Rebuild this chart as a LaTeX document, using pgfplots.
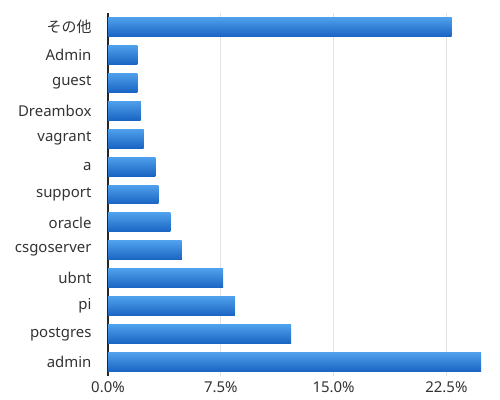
\documentclass[border=0pt]{standalone}
\usepackage{pgfplots}
\pgfplotsset{compat=1.18}
\usepackage{fontspec}
\setmainfont{Noto Sans}
\newfontfamily\cjk{Noto Sans CJK JP}
\definecolor{txt}{HTML}{333333}
\definecolor{gridc}{HTML}{E3E3E3}
\definecolor{bartop}{HTML}{4FA0EC}
\definecolor{barbot}{HTML}{1964C2}
\begin{document}
\begin{tikzpicture}[x=1bp,y=1bp]
\path (0,0) rectangle (500,399);
\begin{axis}[
  at={(108bp,23bp)}, anchor=south west,
  scale only axis, width=376bp, height=363bp,
  xmin=0, xmax=25, ymin=-0.5, ymax=12.5,
  xtick={0,7.5,15,22.5},
  xticklabels={0.0\%,7.5\%,15.0\%,22.5\%},
  ytick={0,...,12},
  yticklabels={admin,postgres,pi,ubnt,csgoserver,oracle,support,a,vagrant,Dreambox,guest,Admin,{\cjk その他}},
  axis lines=left,
  axis line style={-},
  x axis line style={draw=none},
  y axis line style={draw=black!85, line width=1.2pt},
  major tick length=0pt,
  xmajorgrids, grid style={gridc, line width=0.8pt},
  tick label style={font=\fontsize{15}{17}\selectfont, text=txt},
  yticklabel style={xshift=-13bp},
  xticklabel style={yshift=-2bp},
  xbar, bar width=0.68, bar shift=0pt,
  every axis plot/.append style={draw=none, top color=bartop, bottom color=barbot, bar shift=0pt},
  clip=false,
]
\addplot coordinates {(24.8,0)};
\addplot coordinates {(12.17,1)};
\addplot coordinates {(8.44,2)};
\addplot coordinates {(7.65,3)};
\addplot coordinates {(4.9,4)};
\addplot coordinates {(4.14,5)};
\addplot coordinates {(3.35,6)};
\addplot coordinates {(3.15,7)};
\addplot coordinates {(2.37,8)};
\addplot coordinates {(2.17,9)};
\addplot coordinates {(1.95,10)};
\addplot coordinates {(1.95,11)};
\addplot coordinates {(22.85,12)};
\end{axis}
\end{tikzpicture}
\end{document}
